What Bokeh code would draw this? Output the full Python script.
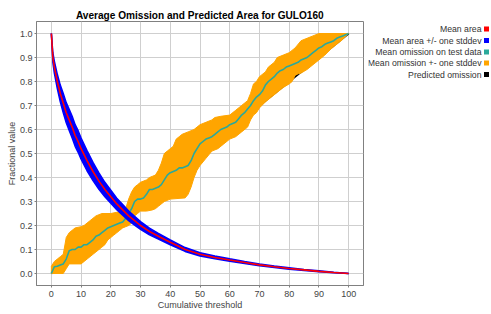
from bokeh.plotting import figure
from bokeh.layouts import row
from bokeh.models import Range1d, FixedTicker
from bokeh.core.properties import value
from bokeh.embed import file_html
from bokeh.resources import INLINE
import numpy as np

TITLE = "Average Omission and Predicted Area for GULO160"
X_LABEL = "Cumulative threshold"
Y_LABEL = "Fractional value"
X_TICKS = [0, 10, 20, 30, 40, 50, 60, 70, 80, 90, 100]
Y_TICKS = [0.0, 0.1, 0.2, 0.3, 0.4, 0.5, 0.6, 0.7, 0.8, 0.9, 1.0]

LEGEND_LABELS = ["Mean area", "Mean area +/- one stddev", "Mean omission on test data",
                 "Mean omission +- one stddev", "Predicted omission"]
COLORS = ["#ff0000", "#0000ff", "#2aa99b", "#ffa500", "#000000"]

# Mean fractional predicted area and its stddev
AREA_X = [0, 0.5, 1, 2, 3, 4, 5, 6, 7, 8, 9, 10, 12, 14, 16, 18, 20, 22, 24, 26, 28, 30,
          33, 36, 40, 45, 50, 55, 60, 65, 70, 75, 80, 85, 90, 95, 100]
AREA_MEAN = [1.0, 0.9, 0.86, 0.8, 0.75, 0.71, 0.67, 0.64, 0.61, 0.575, 0.55, 0.52, 0.47,
             0.425, 0.385, 0.35, 0.32, 0.29, 0.265, 0.24, 0.22, 0.2, 0.175, 0.155, 0.13,
             0.1, 0.08, 0.067, 0.056, 0.046, 0.036, 0.028, 0.021, 0.015, 0.009, 0.004, 0.0]
AREA_SD = [0.0, 0.02, 0.025, 0.03, 0.035, 0.04, 0.042, 0.044, 0.045, 0.045, 0.045, 0.044,
           0.042, 0.038, 0.034, 0.03, 0.027, 0.024, 0.022, 0.02, 0.018, 0.016, 0.014, 0.012,
           0.01, 0.008, 0.007, 0.006, 0.005, 0.004, 0.004, 0.003, 0.003, 0.002, 0.002, 0.001,
           0.0]

# Mean omission on test data
OM_X = list(range(0, 101))
OM_MEAN = [0.0, 0.028, 0.03, 0.035, 0.04, 0.06, 0.095, 0.1, 0.1, 0.11, 0.11, 0.12, 0.12, 0.13,
           0.14, 0.155, 0.16, 0.17, 0.18, 0.19, 0.195, 0.2, 0.205, 0.21, 0.215, 0.23, 0.25,
           0.27, 0.3, 0.31, 0.31, 0.315, 0.33, 0.35, 0.35, 0.355, 0.36, 0.37, 0.39, 0.41, 0.42,
           0.425, 0.43, 0.44, 0.44, 0.445, 0.45, 0.47, 0.5, 0.52, 0.54, 0.55, 0.56, 0.565, 0.57,
           0.58, 0.59, 0.6, 0.605, 0.61, 0.62, 0.625, 0.63, 0.645, 0.66, 0.67, 0.685, 0.7, 0.72,
           0.735, 0.745, 0.76, 0.785, 0.8, 0.81, 0.82, 0.835, 0.845, 0.85, 0.86, 0.865, 0.87,
           0.875, 0.88, 0.89, 0.895, 0.9, 0.91, 0.92, 0.93, 0.94, 0.945, 0.955, 0.96, 0.965,
           0.97, 0.98, 0.985, 0.99, 0.995, 1.0]

# Mean omission +- one stddev (upper and lower edges)
UP_X = [0, 1, 2, 3, 4, 5, 6, 7, 8, 10, 11, 12, 13, 14, 15, 16, 17, 20, 22, 24, 25, 26, 27, 28,
        29, 30, 31, 32, 33, 34, 35, 36, 37, 38, 39, 40, 41, 42, 43, 44, 45, 46, 47, 48, 49, 50,
        52, 54, 55, 57, 60, 62, 64, 66, 67, 68, 69, 70, 72, 73, 75, 76, 78, 80, 82, 84, 86, 88,
        90, 100]
UP_Y = [0.03, 0.05, 0.06, 0.07, 0.08, 0.15, 0.17, 0.18, 0.19, 0.195, 0.2, 0.21, 0.22, 0.23,
        0.24, 0.245, 0.25, 0.25, 0.255, 0.26, 0.27, 0.31, 0.34, 0.36, 0.37, 0.38, 0.385, 0.39,
        0.4, 0.405, 0.41, 0.43, 0.46, 0.5, 0.51, 0.52, 0.53, 0.56, 0.57, 0.58, 0.585, 0.59,
        0.595, 0.6, 0.61, 0.62, 0.63, 0.64, 0.65, 0.655, 0.66, 0.68, 0.7, 0.72, 0.75, 0.79, 0.8,
        0.82, 0.84, 0.86, 0.88, 0.9, 0.91, 0.92, 0.94, 0.97, 0.98, 0.99, 1.0, 1.0]
LO_X = [0, 4, 5, 6, 10, 11, 12, 13, 14, 15, 16, 17, 18, 19, 20, 21, 22, 23, 24, 25, 26, 27, 28,
        29, 30, 32, 34, 35, 36, 38, 40, 45, 46, 47, 48, 49, 50, 52, 54, 56, 58, 60, 62, 64, 66,
        67, 68, 69, 70, 72, 74, 76, 78, 80, 81, 82, 83, 84, 86, 88, 90, 92, 94, 96, 98, 100]
LO_Y = [0.0, 0.0, 0.02, 0.04, 0.04, 0.05, 0.06, 0.07, 0.08, 0.09, 0.1, 0.11, 0.12, 0.14, 0.15,
        0.16, 0.17, 0.18, 0.19, 0.195, 0.2, 0.21, 0.24, 0.25, 0.26, 0.26, 0.265, 0.27, 0.28,
        0.3, 0.31, 0.315, 0.33, 0.36, 0.4, 0.43, 0.45, 0.48, 0.51, 0.52, 0.54, 0.56, 0.57,
        0.59, 0.61, 0.64, 0.66, 0.67, 0.69, 0.715, 0.735, 0.755, 0.775, 0.79, 0.8, 0.826,
        0.832, 0.835, 0.85, 0.87, 0.89, 0.91, 0.935, 0.955, 0.975, 1.0]

# Predicted omission (straight line)
PRED_X = [0, 100]
PRED_Y = [0.0, 1.0]

FONT = "Liberation Sans"

p = figure(width=368, height=314, output_backend="svg", toolbar_location=None,
           x_range=Range1d(-5, 105), y_range=Range1d(-0.05, 1.05),
           min_border_left=36, min_border_right=5, min_border_top=21, min_border_bottom=29)
p.background_fill_color = "white"
p.border_fill_color = "white"
p.outline_line_color = "#808080"

p.title.text = TITLE
p.title.align = "center"
p.title.text_font = FONT
p.title.text_font_size = "10.1px"
p.title.text_font_style = "bold"
p.title.text_color = "#000000"
p.title.standoff = 1
p.title.offset = 0

for ax in (p.xaxis[0], p.yaxis[0]):
    ax.axis_line_color = "#808080"
    ax.major_tick_line_color = "#808080"
    ax.major_tick_out = 2
    ax.major_tick_in = 0
    ax.minor_tick_line_color = None
    ax.major_label_text_font = FONT
    ax.major_label_text_font_size = "9px"
    ax.major_label_text_color = "#444444"
    ax.axis_label_text_font = FONT
    ax.axis_label_text_font_size = "9px"
    ax.axis_label_text_font_style = "normal"
    ax.axis_label_text_color = "#444444"
    ax.axis_label_standoff = 0

p.xaxis.major_label_standoff = 3
p.yaxis.major_label_standoff = 2
p.xaxis.axis_label = X_LABEL
p.yaxis.axis_label = Y_LABEL
p.xaxis.ticker = FixedTicker(ticks=X_TICKS)
p.yaxis.ticker = FixedTicker(ticks=Y_TICKS)
p.yaxis.major_label_overrides = {t: f"{t:.1f}" for t in Y_TICKS}

p.xgrid.ticker = FixedTicker(ticks=X_TICKS)
p.ygrid.ticker = FixedTicker(ticks=Y_TICKS)
p.grid.grid_line_color = "#cfcfcf"
p.grid.grid_line_width = 1

# draw order: predicted (bottom), omission band, omission mean, area band, area mean (top)
p.line(PRED_X, PRED_Y, line_color=COLORS[4], line_width=2)

band_x = UP_X + LO_X[::-1]
band_y = UP_Y + LO_Y[::-1]
p.patch(band_x, band_y, fill_color=COLORS[3], line_color=COLORS[3], line_width=1)

p.line(OM_X, OM_MEAN, line_color=COLORS[2], line_width=1.6)

am = np.array(AREA_MEAN)
sd = np.array(AREA_SD)
p.varea(x=AREA_X, y1=am - sd, y2=am + sd, fill_color=COLORS[1])
p.line(AREA_X, list(am + sd), line_color=COLORS[1], line_width=1.5)
p.line(AREA_X, list(am - sd), line_color=COLORS[1], line_width=1.5)
p.line(AREA_X, AREA_MEAN, line_color=COLORS[0], line_width=1.6)

# legend panel (its frame is aligned with the main frame: window y 21..285)
LEG_W = 491 - 368
leg = figure(width=LEG_W, height=314, output_backend="svg", toolbar_location=None,
             x_range=Range1d(0, LEG_W), y_range=Range1d(285, 21),
             x_axis_location=None, y_axis_location=None, min_border=0)
leg.outline_line_color = None
leg.grid.visible = False
leg.background_fill_color = "white"
leg.border_fill_color = "white"
leg_y = [28.5, 40, 51.5, 62.5, 74]
leg.text(x=[113] * len(LEGEND_LABELS), y=leg_y, text=LEGEND_LABELS,
         text_align="right", text_baseline="middle", text_font=value(FONT),
         text_font_size=value("8.7px"), text_color="#333333")
leg.rect(x=[118] * len(LEGEND_LABELS), y=leg_y, width=5, height=5,
         fill_color=COLORS, line_color=None)

layout = row(p, leg, spacing=0)
open("out.html", "w").write(file_html(layout, INLINE))
